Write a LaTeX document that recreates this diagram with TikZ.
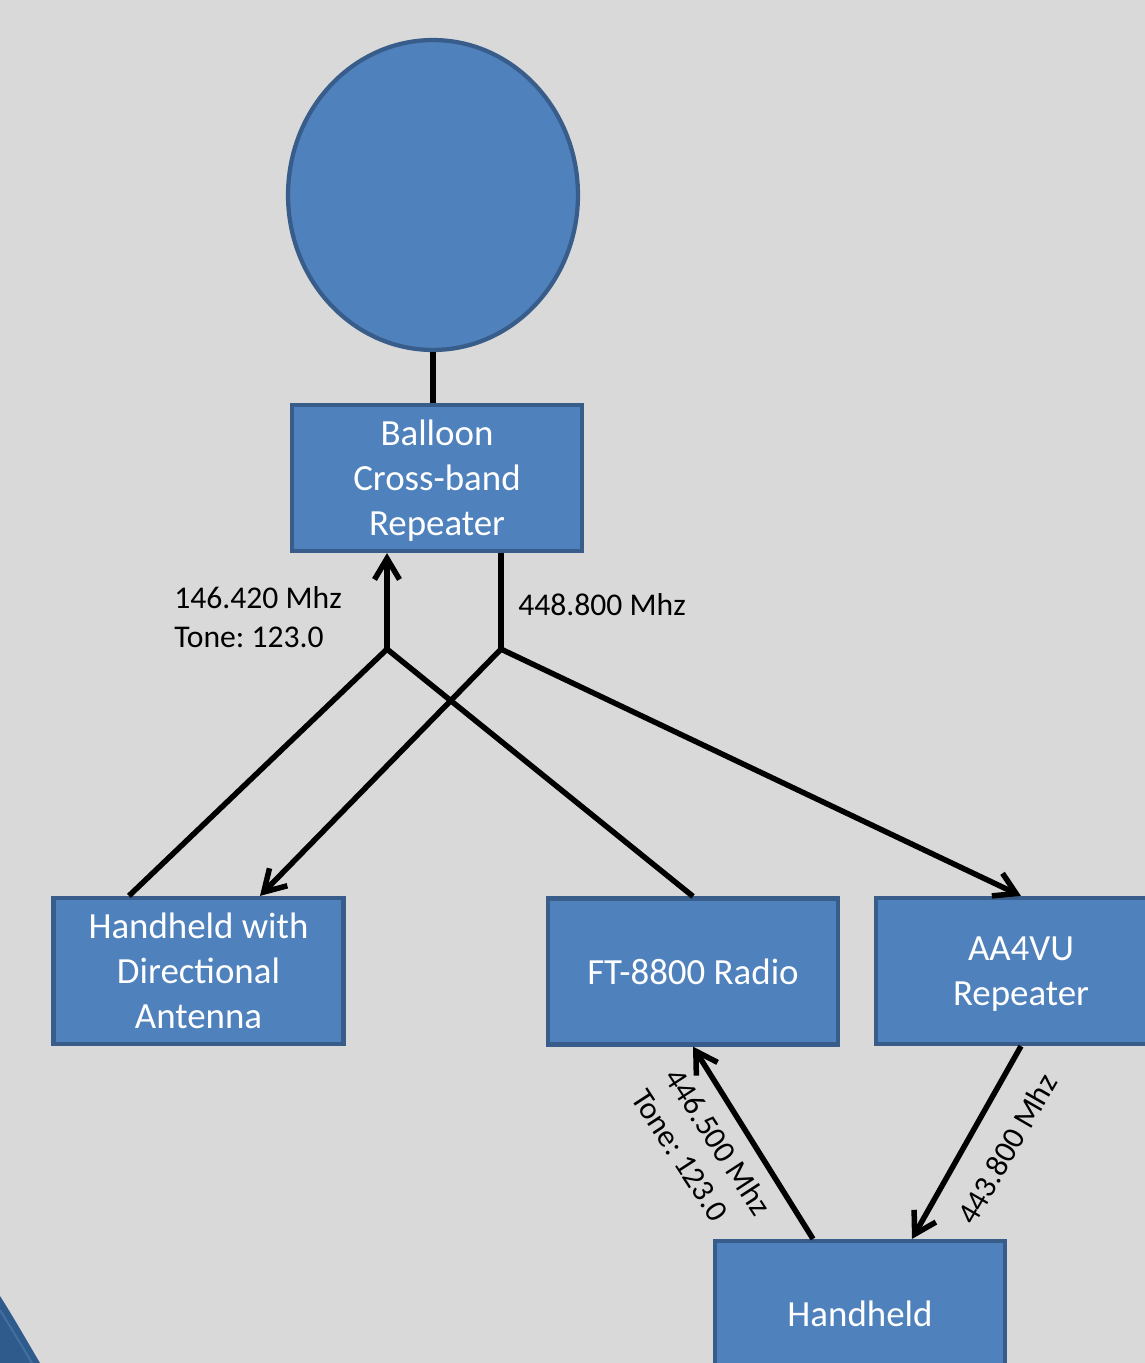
\documentclass[tikz,border=0pt]{standalone}
\usepackage{fontspec}
\setmainfont{Carlito}
\usepackage{tikz}
\usetikzlibrary{positioning}
\usetikzlibrary{calc,arrows.meta}
\usetikzlibrary{shapes.geometric}
\definecolor{bl-fill}{HTML}{4F81BD}
\definecolor{bl-edge}{HTML}{385D8A}
\definecolor{bl-dark}{HTML}{2E5A8C}
\definecolor{bl-mid}{HTML}{41709F}
\definecolor{bg-grey}{HTML}{D9D9D9}
\frenchspacing

\begin{document}
\begin{tikzpicture}[
    x=0.02cm, y=-0.02cm, % one unit = one pixel of the slide
    >={Straight Barb[length=0.42cm,width=0.5cm]}
  ]

  % Styles for the boxes and links
  \tikzset{
    unit/.style={draw=bl-edge, fill=bl-fill, line width=0.085cm, minimum width=5.8cm, minimum height=2.92cm, text=white, align=center, inner sep=2pt, text depth=0pt, font=\fontsize{21}{25.6}\selectfont},
    link/.style={line width=0.11cm, black},
    freq/.style={inner sep=0pt, align=left, font=\fontsize{18}{22.2}\selectfont}
  }

  % Slide background
  \fill[bg-grey] (0,0) rectangle (1145,1363);
  \useasboundingbox (0,0) rectangle (1145,1363);
  \clip (0,0) rectangle (1145,1363);

  % Corner swoosh
  \fill[bl-dark] (0,1296) .. controls (14,1318) and (27,1341) .. (40,1363) -- (0,1363) -- cycle;
  \draw[bl-mid, line width=0.04cm] (0,1310) .. controls (11,1328) and (22,1346) .. (32,1363);

  % Balloon and its repeater
  \node (balloon) [ellipse, draw=bl-edge, fill=bl-fill, line width=0.085cm, minimum width=5.8cm, minimum height=6.2cm] at (433,195) {};
  \node (rpt) [unit] at (437,478) {Balloon\\Cross-band\\Repeater};

  % Ground stations
  \node (hdir) [unit] at (198.5,971) {Handheld with\\Directional\\Antenna};
  \node (ft) [unit] at (693,971.5) {FT-8800 Radio};
  \node (aa) [unit] at (1021,971) {AA4VU\\Repeater};
  \node (hh) [unit] at (860,1314) {Handheld};

  % Splitting points below the repeater
  \coordinate (up) at ($(rpt.south)+(-50,96)$);
  \coordinate (down) at ($(rpt.south)+(64,96)$);

  % Tether
  \draw[link] (balloon) -- (balloon.south |- rpt.north);

  % Uplink 146.420
  \draw[link, ->] (up) -- (up |- rpt.south);
  \draw[link] ($(hdir.north west)+(77.5,0)$) -- (up) -- (ft.north);

  % Downlink 448.800
  \draw[link] (down |- rpt.south) -- (down);
  \draw[link, ->] (down) -- ($(hdir.north)+(61.5,0)$);
  \draw[link, ->] (down) -- (aa.north);

  % Local links to the handheld
  \draw[link, ->] ($(hh.north)+(-47,0)$) -- (ft.south);
  \draw[link, ->] (aa.south) -- ($(hh.north)+(52,0)$);

  % Frequency labels
  \node (fup) [freq, anchor=west] at (174,617) {146.420 Mhz\\Tone: 123.0};
  \node (fdown) [freq, anchor=west] at (518,605) {448.800 Mhz};
  \node (fft) [freq, rotate=-57] at (702,1152) {446.500 Mhz\\Tone: 123.0};
  \node (faa) [freq, rotate=60] at (1007,1149) {443.800 Mhz};

\end{tikzpicture}
\end{document}
